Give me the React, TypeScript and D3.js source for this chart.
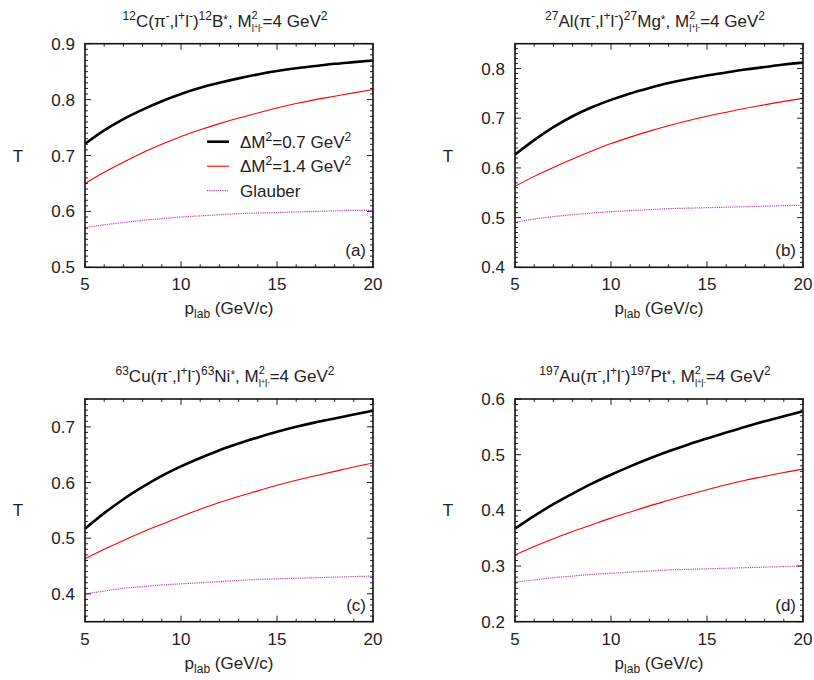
import React from "react";
import * as d3 from "d3";

const pLab = [5, 6, 7, 8, 9, 10, 11, 12, 13, 14, 15, 16, 17, 18, 19, 20];
const xTicks = [5, 10, 15, 20];

// (a) 12C
const blackA = [0.721, 0.745, 0.765, 0.782, 0.797, 0.81, 0.821, 0.83, 0.838, 0.845, 0.851, 0.856, 0.86, 0.864, 0.867, 0.87];
const redA = [0.65, 0.67, 0.688, 0.705, 0.72, 0.734, 0.746, 0.757, 0.767, 0.776, 0.785, 0.793, 0.8, 0.806, 0.812, 0.818];
const glauberA = [0.571, 0.576, 0.58, 0.584, 0.587, 0.59, 0.592, 0.594, 0.596, 0.597, 0.598, 0.599, 0.6, 0.601, 0.602, 0.602];
// (b) 27Al
const blackB = [0.627, 0.656, 0.682, 0.704, 0.722, 0.737, 0.75, 0.761, 0.771, 0.779, 0.786, 0.792, 0.798, 0.803, 0.808, 0.812];
const redB = [0.563, 0.583, 0.601, 0.618, 0.634, 0.649, 0.662, 0.674, 0.685, 0.695, 0.704, 0.712, 0.72, 0.727, 0.734, 0.74];
const glauberB = [0.491, 0.497, 0.502, 0.506, 0.509, 0.512, 0.514, 0.516, 0.518, 0.519, 0.52, 0.521, 0.522, 0.523, 0.524, 0.525];
// (c) 63Cu
const blackC = [0.517, 0.545, 0.57, 0.592, 0.612, 0.629, 0.644, 0.658, 0.67, 0.681, 0.691, 0.7, 0.708, 0.715, 0.722, 0.729];
const redC = [0.463, 0.48, 0.496, 0.511, 0.525, 0.539, 0.552, 0.564, 0.575, 0.585, 0.595, 0.604, 0.612, 0.62, 0.628, 0.635];
const glauberC = [0.4, 0.405, 0.41, 0.413, 0.416, 0.418, 0.42, 0.422, 0.424, 0.426, 0.427, 0.428, 0.429, 0.43, 0.431, 0.432];
// (d) 197Au
const blackD = [0.367, 0.39, 0.411, 0.43, 0.448, 0.464, 0.479, 0.493, 0.506, 0.518, 0.529, 0.54, 0.55, 0.56, 0.569, 0.578];
const redD = [0.32, 0.335, 0.349, 0.362, 0.374, 0.386, 0.397, 0.408, 0.418, 0.428, 0.437, 0.446, 0.454, 0.461, 0.468, 0.474];
const glauberD = [0.271, 0.275, 0.279, 0.282, 0.285, 0.287, 0.289, 0.291, 0.293, 0.294, 0.295, 0.296, 0.297, 0.298, 0.299, 0.3];

const yTicksA = [0.5, 0.6, 0.7, 0.8, 0.9];
const yTicksB = [0.4, 0.5, 0.6, 0.7, 0.8];
const yTicksC = [0.4, 0.5, 0.6, 0.7];
const yTicksD = [0.2, 0.3, 0.4, 0.5, 0.6];

const legendLabels = ["0.7", "1.4", "Glauber"];

const FONT = "'Liberation Sans', Arial, Helvetica, sans-serif";
const GLAUBER = "#c040b8";
const FS = 17;
const SUP = 12;

type PanelProps = {
  x0: number; x1: number; y0: number; y1: number;
  ydom: [number, number]; yTicks: number[];
  black: number[]; red: number[]; glauber: number[];
  a1: string; el1: string; a2: string; el2: string;
  tag: string; legend?: boolean;
};

function Panel(p: PanelProps) {
  const x = d3.scaleLinear().domain([5, 20]).range([p.x0, p.x1]);
  const y = d3.scaleLinear().domain(p.ydom).range([p.y1, p.y0]);
  const line = (vals: number[]) =>
    d3.line<number>().x((_, i) => x(pLab[i])).y((v) => y(v)).curve(d3.curveMonotoneX)(vals) || "";
  const fmt = d3.format(".1f");
  const xMinor = d3.range(5, 21).filter((v) => !xTicks.includes(v));
  const yMinor = d3
    .range(Math.ceil(p.ydom[0] * 100 - 1e-6), Math.floor(p.ydom[1] * 100 + 1e-6) + 1)
    .map((v) => v / 100)
    .filter((v) => !p.yTicks.some((t) => Math.abs(t - v) < 1e-6));
  const cx = (p.x0 + p.x1) / 2;
  const cy = (p.y0 + p.y1) / 2;
  const big = 6, small = 3;
  const ticks: JSX.Element[] = [];
  xTicks.forEach((t, i) => {
    ticks.push(<line key={"xt" + i} x1={x(t)} x2={x(t)} y1={p.y1} y2={p.y1 - big} />);
    ticks.push(<line key={"xtt" + i} x1={x(t)} x2={x(t)} y1={p.y0} y2={p.y0 + big} />);
  });
  xMinor.forEach((t, i) => {
    ticks.push(<line key={"xm" + i} x1={x(t)} x2={x(t)} y1={p.y1} y2={p.y1 - small} />);
    ticks.push(<line key={"xmt" + i} x1={x(t)} x2={x(t)} y1={p.y0} y2={p.y0 + small} />);
  });
  p.yTicks.forEach((t, i) => {
    ticks.push(<line key={"yt" + i} x1={p.x0} x2={p.x0 + big} y1={y(t)} y2={y(t)} />);
    ticks.push(<line key={"ytr" + i} x1={p.x1} x2={p.x1 - big} y1={y(t)} y2={y(t)} />);
  });
  yMinor.forEach((t, i) => {
    ticks.push(<line key={"ym" + i} x1={p.x0} x2={p.x0 + small} y1={y(t)} y2={y(t)} />);
    ticks.push(<line key={"ymr" + i} x1={p.x1} x2={p.x1 - small} y1={y(t)} y2={y(t)} />);
  });
  const titleY = p.y0 - 17;
  const lx = p.x0 + 122;
  const ly = p.y0 + 98;
  return (
    <g fontFamily={FONT} fill="#222">
      <path d={line(p.glauber)} fill="none" stroke={GLAUBER} strokeWidth={1.2} strokeDasharray="1.2,1" />
      <path d={line(p.red)} fill="none" stroke="#ff0000" strokeWidth={1.1} />
      <path d={line(p.black)} fill="none" stroke="#000" strokeWidth={2.6} />
      <g stroke="#222" strokeWidth={1}>{ticks}</g>
      <rect x={p.x0} y={p.y0} width={p.x1 - p.x0} height={p.y1 - p.y0} fill="none" stroke="#111" strokeWidth={1.6} />
      {p.yTicks.map((t) => (
        <text key={t} x={p.x0 - 10} y={y(t) + 6} textAnchor="end" fontSize={FS}>{fmt(t)}</text>
      ))}
      {xTicks.map((t) => (
        <text key={t} x={x(t)} y={p.y1 + 23} textAnchor="middle" fontSize={FS}>{t}</text>
      ))}
      <text x={cx} y={p.y1 + 47} textAnchor="middle" fontSize={FS}>
        p<tspan fontSize={SUP} dy={4}>lab</tspan><tspan dy={-4}> (GeV/c)</tspan>
      </text>
      <text x={p.x0 - 67} y={cy + 6} textAnchor="middle" fontSize={FS}>T</text>
      <text x={p.x1 - 7} y={p.y1 - 11} textAnchor="end" fontSize={FS}>{p.tag}</text>
      <text x={cx - 4} y={titleY} textAnchor="middle" fontSize={FS}>
        <tspan fontSize={SUP} dy={-7}>{p.a1}</tspan>
        <tspan dy={7}>{p.el1}(π</tspan>
        <tspan fontSize={SUP} dy={-7}>-</tspan>
        <tspan dy={7}>,l</tspan>
        <tspan fontSize={SUP} dy={-7}>+</tspan>
        <tspan dy={7}>l</tspan>
        <tspan fontSize={SUP} dy={-7}>-</tspan>
        <tspan dy={7}>)</tspan>
        <tspan fontSize={SUP} dy={-7}>{p.a2}</tspan>
        <tspan dy={7}>{p.el2}</tspan>
        <tspan fontSize={SUP} dy={-3}>*</tspan>
        <tspan dy={3}>, M</tspan>
        <tspan fontSize={11} dy={-8}>2</tspan>
        <tspan fontSize={10} dx={-6} dy={13}>l</tspan>
        <tspan fontSize={7} dy={-3}>+</tspan>
        <tspan fontSize={10} dy={3}>l</tspan>
        <tspan fontSize={7} dy={-3}>-</tspan>
        <tspan dy={-2}>=4 GeV</tspan>
        <tspan fontSize={SUP} dy={-7}>2</tspan>
      </text>
      {p.legend && (
        <g>
          <line x1={lx} x2={lx + 22} y1={ly} y2={ly} stroke="#000" strokeWidth={2.6} />
          <line x1={lx} x2={lx + 22} y1={ly + 24.5} y2={ly + 24.5} stroke="#ff0000" strokeWidth={1.1} />
          <line x1={lx} x2={lx + 22} y1={ly + 49} y2={ly + 49} stroke={GLAUBER} strokeWidth={1.2} strokeDasharray="1.2,1" />
          {legendLabels.slice(0, 2).map((v, i) => (
            <text key={v} x={lx + 33} y={ly + 6 + i * 24.5} fontSize={FS}>
              ΔM<tspan fontSize={SUP} dy={-7}>2</tspan>
              <tspan dy={7}>={v} GeV</tspan>
              <tspan fontSize={SUP} dy={-7}>2</tspan>
            </text>
          ))}
          <text x={lx + 33} y={ly + 6 + 49} fontSize={FS}>{legendLabels[2]}</text>
        </g>
      )}
    </g>
  );
}

export default function App() {
  return (
    <svg width={814} height={680} style={{ position: "absolute", left: 0, top: 0, background: "#fff" }}>
      <Panel x0={85} x1={373} y0={43.7} y1={267.3} ydom={[0.5, 0.9]} yTicks={yTicksA}
        black={blackA} red={redA} glauber={glauberA} a1="12" el1="C" a2="12" el2="B" tag="(a)" legend />
      <Panel x0={515} x1={803} y0={43.7} y1={267.3} ydom={[0.4, 0.85]} yTicks={yTicksB}
        black={blackB} red={redB} glauber={glauberB} a1="27" el1="Al" a2="27" el2="Mg" tag="(b)" />
      <Panel x0={85} x1={373} y0={399} y1={621.7} ydom={[0.35, 0.75]} yTicks={yTicksC}
        black={blackC} red={redC} glauber={glauberC} a1="63" el1="Cu" a2="63" el2="Ni" tag="(c)" />
      <Panel x0={515} x1={803} y0={399} y1={621.7} ydom={[0.2, 0.6]} yTicks={yTicksD}
        black={blackD} red={redD} glauber={glauberD} a1="197" el1="Au" a2="197" el2="Pt" tag="(d)" />
    </svg>
  );
}
